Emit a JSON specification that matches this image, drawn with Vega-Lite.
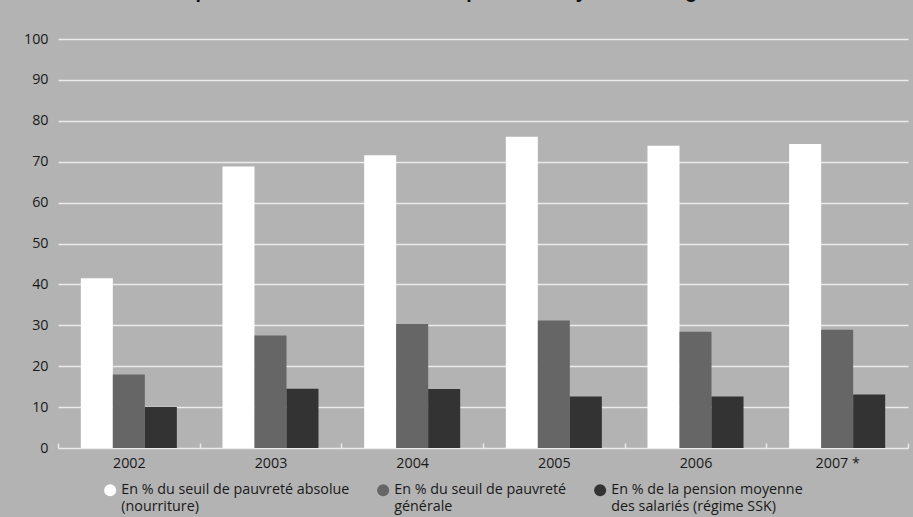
{
  "$schema": "https://vega.github.io/schema/vega-lite/v6.json",
  "width": 850,
  "height": 409,
  "autosize": {"type": "none"},
  "padding": {"left": 58, "top": 39, "right": 5, "bottom": 69},
  "background": "#b3b3b3",
  "title": {
    "text": "officiels de pauvreté et du montant de la pension moyenne du régime des salariés",
    "font": "Liberation Sans",
    "fontSize": 19.5,
    "fontWeight": "bold",
    "color": "#111111",
    "anchor": "middle",
    "offset": 28,
    "dy": -2,
    "dx": -15
  },
  "data": {
    "values": [
      {"annee": "2002", "serie": "En % du seuil de pauvreté absolue (nourriture)", "valeur": 41.5},
      {"annee": "2002", "serie": "En % du seuil de pauvreté générale", "valeur": 18.0},
      {"annee": "2002", "serie": "En % de la pension moyenne des salariés (régime SSK)", "valeur": 10.0},
      {"annee": "2003", "serie": "En % du seuil de pauvreté absolue (nourriture)", "valeur": 68.8},
      {"annee": "2003", "serie": "En % du seuil de pauvreté générale", "valeur": 27.5},
      {"annee": "2003", "serie": "En % de la pension moyenne des salariés (régime SSK)", "valeur": 14.5},
      {"annee": "2004", "serie": "En % du seuil de pauvreté absolue (nourriture)", "valeur": 71.6},
      {"annee": "2004", "serie": "En % du seuil de pauvreté générale", "valeur": 30.3},
      {"annee": "2004", "serie": "En % de la pension moyenne des salariés (régime SSK)", "valeur": 14.4},
      {"annee": "2005", "serie": "En % du seuil de pauvreté absolue (nourriture)", "valeur": 76.1},
      {"annee": "2005", "serie": "En % du seuil de pauvreté générale", "valeur": 31.2},
      {"annee": "2005", "serie": "En % de la pension moyenne des salariés (régime SSK)", "valeur": 12.6},
      {"annee": "2006", "serie": "En % du seuil de pauvreté absolue (nourriture)", "valeur": 73.9},
      {"annee": "2006", "serie": "En % du seuil de pauvreté générale", "valeur": 28.4},
      {"annee": "2006", "serie": "En % de la pension moyenne des salariés (régime SSK)", "valeur": 12.6},
      {"annee": "2007 *", "serie": "En % du seuil de pauvreté absolue (nourriture)", "valeur": 74.3},
      {"annee": "2007 *", "serie": "En % du seuil de pauvreté générale", "valeur": 28.9},
      {"annee": "2007 *", "serie": "En % de la pension moyenne des salariés (régime SSK)", "valeur": 13.1}
    ]
  },
  "mark": {"type": "bar"},
  "encoding": {
    "x": {
      "field": "annee",
      "type": "nominal",
      "sort": null,
      "scale": {"paddingInner": 0, "paddingOuter": 0},
      "axis": {
        "title": null,
        "labelAngle": 0,
        "tickBand": "extent",
        "tickSize": -5,
        "tickColor": "#e8e8e8",
        "tickWidth": 1.5,
        "domain": false,
        "labelPadding": 13,
        "labelFont": "Open Sans",
        "labelFontSize": 14.3,
        "labelColor": "#1a1a1a"
      }
    },
    "xOffset": {
      "field": "serie",
      "sort": ["En % du seuil de pauvreté absolue (nourriture)", "En % du seuil de pauvreté générale", "En % de la pension moyenne des salariés (régime SSK)"],
      "scale": {"paddingInner": 0, "paddingOuter": 0.713}
    },
    "y": {
      "field": "valeur",
      "type": "quantitative",
      "scale": {"domain": [0, 100]},
      "axis": {
        "title": null,
        "values": [0, 10, 20, 30, 40, 50, 60, 70, 80, 90, 100],
        "grid": true,
        "gridColor": "#ebebeb",
        "gridWidth": 1.5,
        "domain": false,
        "ticks": false,
        "labelPadding": 10,
        "labelFont": "Open Sans",
        "labelFontSize": 14.3,
        "labelColor": "#1a1a1a"
      }
    },
    "color": {
      "field": "serie",
      "type": "nominal",
      "scale": {
        "domain": ["En % du seuil de pauvreté absolue (nourriture)", "En % du seuil de pauvreté générale", "En % de la pension moyenne des salariés (régime SSK)"],
        "range": ["#ffffff", "#666666", "#333333"]
      },
      "legend": {
        "orient": "none",
        "legendX": 45,
        "legendY": 444,
        "direction": "horizontal",
        "title": null,
        "symbolType": "circle",
        "symbolSize": 144,
        "symbolStrokeWidth": 0,
        "labelFont": "Open Sans",
        "labelFontSize": 14.3,
        "labelColor": "#1a1a1a",
        "labelLimit": 400,
        "labelOffset": 4,
        "columnPadding": 26,
        "labelExpr": "datum.label == 'En % du seuil de pauvreté absolue (nourriture)' ? ['En % du seuil de pauvreté absolue', '(nourriture)'] : datum.label == 'En % du seuil de pauvreté générale' ? ['En % du seuil de pauvreté', 'générale'] : ['En % de la pension moyenne', 'des salariés (régime SSK)']"
      }
    }
  },
  "config": {"view": {"stroke": null}}
}
